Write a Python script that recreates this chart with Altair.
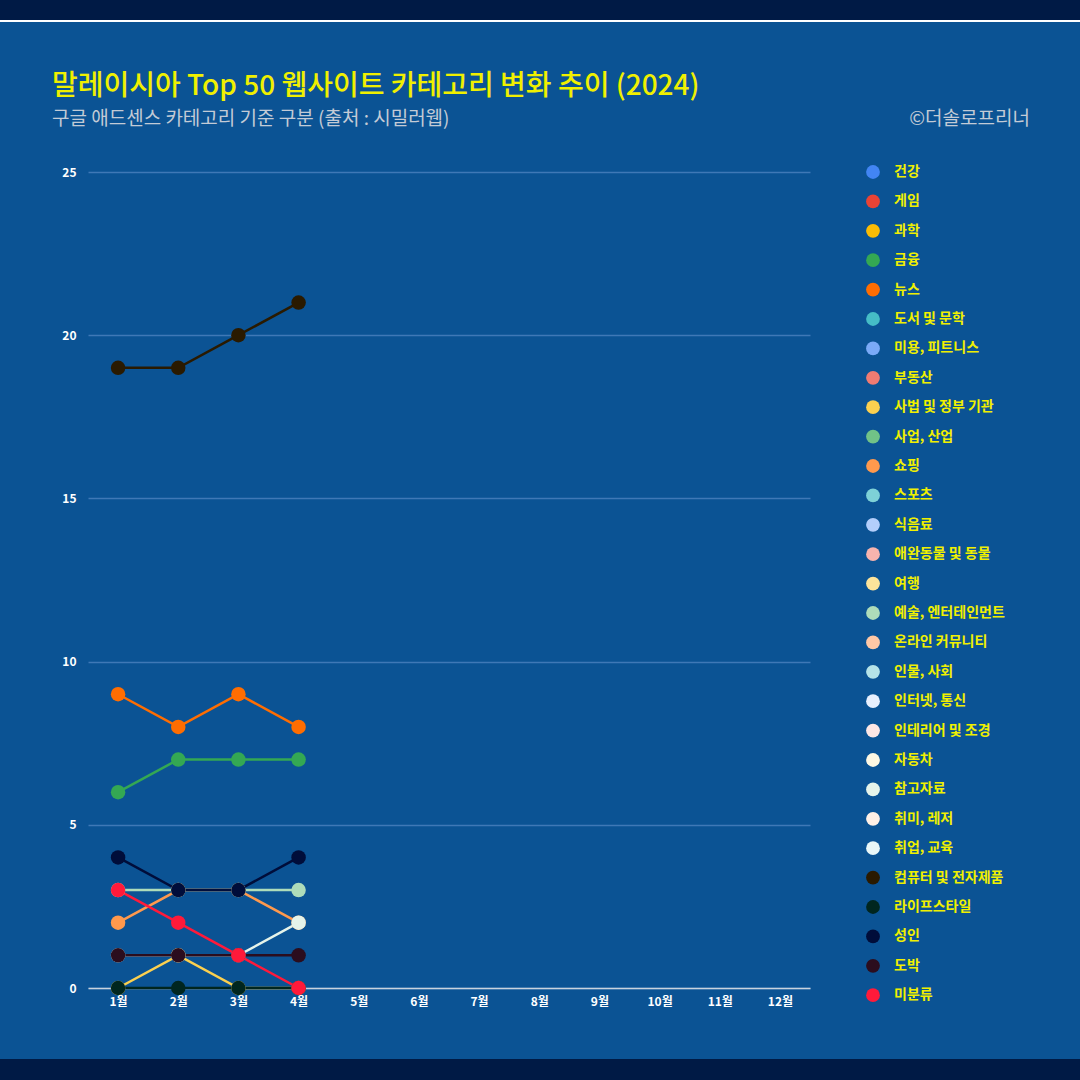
import altair as alt
import pandas as pd

months = ["1월", "2월", "3월", "4월", "5월", "6월", "7월", "8월", "9월", "10월", "11월", "12월"]

categories = [
    "건강", "게임", "과학", "금융", "뉴스", "도서 및 문학", "미용, 피트니스", "부동산",
    "사법 및 정부 기관", "사업, 산업", "쇼핑", "스포츠", "식음료", "애완동물 및 동물", "여행",
    "예술, 엔터테인먼트", "온라인 커뮤니티", "인물, 사회", "인터넷, 통신", "인테리어 및 조경",
    "자동차", "참고자료", "취미, 레저", "취업, 교육", "컴퓨터 및 전자제품", "라이프스타일",
    "성인", "도박", "미분류",
]
colors = [
    "#4285F4", "#EA4335", "#FBBC04", "#34A853", "#FF6D01", "#46BDC6", "#7BAAF7", "#F07B72",
    "#FCD04F", "#71C287", "#FF994D", "#7ED1D7", "#B3CEFB", "#F7B4AE", "#FDE49B",
    "#AEDCBA", "#FFC8A6", "#B5E3E8", "#E8F0FE", "#FDE7E5",
    "#FEF8E3", "#E6F4EA", "#FFF0E6", "#E9F7F8", "#2A1A00", "#00261F",
    "#000D3A", "#2B0D1E", "#FF1A3A",
]

# values for 1월-4월 (remaining months have no data yet)
vals_finance = [6, 7, 7, 7]
vals_news = [9, 8, 9, 8]
vals_gov = [0, 1, 0, 0]
vals_shopping = [2, 3, 3, 2]
vals_arts = [3, 3, 3, 3]
vals_reference = [1, 1, 1, 2]
vals_computer = [19, 19, 20, 21]
vals_lifestyle = [0, 0, 0, 0]
vals_adult = [4, 3, 3, 4]
vals_gambling = [1, 1, 1, 1]
vals_unclassified = [3, 2, 1, 0]

series = [
    ("금융", vals_finance),
    ("뉴스", vals_news),
    ("사법 및 정부 기관", vals_gov),
    ("쇼핑", vals_shopping),
    ("예술, 엔터테인먼트", vals_arts),
    ("참고자료", vals_reference),
    ("컴퓨터 및 전자제품", vals_computer),
    ("라이프스타일", vals_lifestyle),
    ("성인", vals_adult),
    ("도박", vals_gambling),
    ("미분류", vals_unclassified),
]

rows = []
for name, vals in series:
    for i, v in enumerate(vals):
        rows.append({"month": months[i], "category": name, "value": v,
                     "order": categories.index(name)})
df = pd.DataFrame(rows)

W, H = 722, 816
PL, PT = 88, 172

x_enc = alt.X("month:O", sort=months,
              scale=alt.Scale(domain=months, type="point", padding=0.5),
              axis=alt.Axis(title=None, labelAngle=0, labelColor="#ffffff", labelFontSize=12,
                            labelFontWeight="bold", labelFont="Noto Sans CJK KR",
                            domainColor="#c9d3de", domainWidth=1.5, ticks=False,
                            labelPadding=8, grid=False))
y_enc = alt.Y("value:Q", scale=alt.Scale(domain=[0, 25], nice=False),
              axis=alt.Axis(title=None, values=[0, 5, 10, 15, 20, 25], labelColor="#ffffff",
                            labelFontSize=12, labelFontWeight="bold", labelFont="Noto Sans CJK KR",
                            domain=False, ticks=False, labelPadding=12,
                            gridColor="#3f78b6", gridWidth=1.5))
color_enc = alt.Color("category:N",
                      scale=alt.Scale(domain=categories, range=colors),
                      sort=categories,
                      legend=alt.Legend(title=None, orient="none", legendX=778, legendY=-7,
                                        symbolType="circle", symbolSize=190,
                                        symbolStrokeWidth=0, symbolOpacity=1,
                                        labelColor="#f0f000", labelFontSize=14,
                                        labelFontWeight="bold", labelFont="Noto Sans CJK KR",
                                        labelOffset=14, rowPadding=15.4, padding=0,
                                        labelLimit=300))

lines = alt.Chart(df).mark_line(strokeWidth=2.5).encode(
    x=x_enc, y=y_enc, color=color_enc, order="order:Q")
points = alt.Chart(df).mark_circle(size=210, opacity=1).encode(
    x=x_enc, y=y_enc, color=color_enc)

# decorative top / bottom bands
top_band = alt.Chart(pd.DataFrame({"a": [0]})).mark_rect(color="#001a45").encode(
    x=alt.value(-PL), x2=alt.value(1080 - PL), y=alt.value(-PT), y2=alt.value(20 - PT))
top_line = alt.Chart(pd.DataFrame({"a": [0]})).mark_rect(color="#ffffff").encode(
    x=alt.value(-PL), x2=alt.value(1080 - PL), y=alt.value(20 - PT), y2=alt.value(22 - PT))
bot_band = alt.Chart(pd.DataFrame({"a": [0]})).mark_rect(color="#001a45").encode(
    x=alt.value(-PL), x2=alt.value(1080 - PL), y=alt.value(1059 - PT), y2=alt.value(1080 - PT))

title_df = pd.DataFrame({"t": ["말레이시아 Top 50 웹사이트 카테고리 변화 추이 (2024)"]})
sub_df = pd.DataFrame({"t": ["구글 애드센스 카테고리 기준 구분 (출처 : 시밀러웹)"]})
copy_df = pd.DataFrame({"t": ["©더솔로프리너"]})

title = alt.Chart(title_df).mark_text(
    align="left", baseline="middle", font="Noto Sans CJK KR", fontSize=28, fontWeight=500,
    color="#f0f000").encode(text="t:N", x=alt.value(52 - PL), y=alt.value(87 - PT))
subtitle = alt.Chart(sub_df).mark_text(
    align="left", baseline="middle", font="Noto Sans CJK KR", fontSize=19,
    color="#c3cbd6").encode(text="t:N", x=alt.value(52 - PL), y=alt.value(119 - PT))
copyright_ = alt.Chart(copy_df).mark_text(
    align="right", baseline="middle", font="Noto Sans CJK KR", fontSize=19,
    color="#c3cbd6").encode(text="t:N", x=alt.value(1030 - PL), y=alt.value(119 - PT))

chart = alt.layer(top_band, top_line, bot_band, lines, points, title, subtitle, copyright_).properties(
    width=W, height=H,
    autosize=alt.AutoSizeParams(type="none"),
    padding={"left": PL, "top": PT, "right": 1080 - PL - W, "bottom": 1080 - PT - H},
    background="#0b5394",
).configure_view(stroke=None)

chart.save("out.html", embed_options={"renderer": "svg", "actions": False})
